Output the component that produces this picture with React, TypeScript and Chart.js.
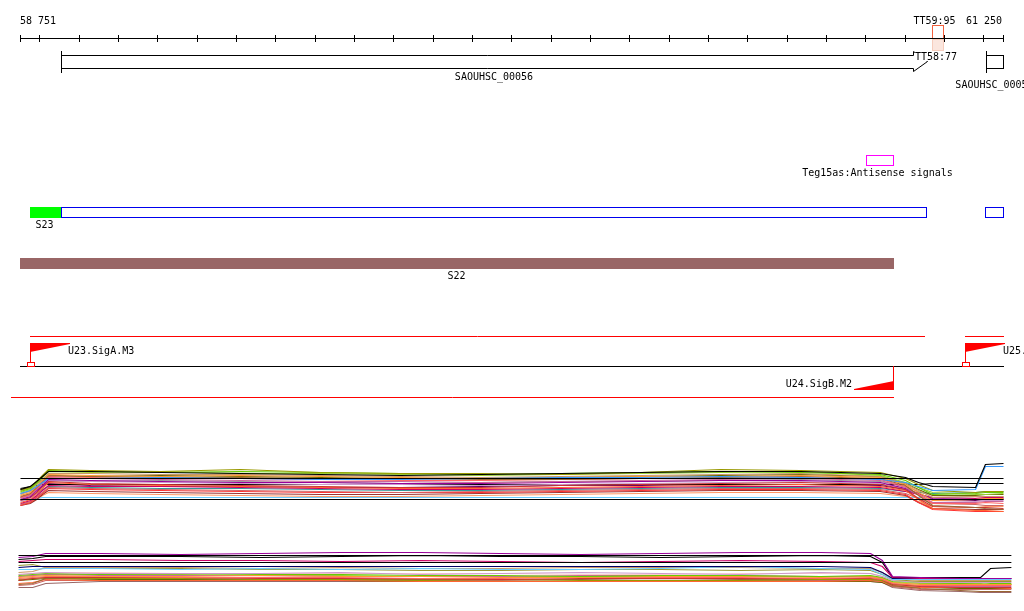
import { useEffect, useRef } from "react";
import { Chart, registerables } from "chart.js";
Chart.register(...registerables);

// ---- genomic range and ruler ----
const RANGE_START = 58751;
const RANGE_END = 61250;
const RULER_TICKS = [58751, 58800, 58900, 59000, 59100, 59200, 59300, 59400, 59500, 59600, 59700, 59800, 59900, 60000, 60100, 60200, 60300, 60400, 60500, 60600, 60700, 60800, 60900, 61000, 61100, 61200, 61250];

// ---- annotation features ----
const TERMINATORS = [{ label: "TT59:95", start: 61070, end: 61097 }];
const TERMINATOR_LABELS = [{ label: "TT58:77", pos: 61026 }];
const GENES = [
  { name: "SAOUHSC_00056", start: 58855, end: 61057, arrow: true },
  { name: "SAOUHSC_00057", start: 61206, end: 61250, arrow: false },
];
const ANTISENSE = [{ label: "Teg15as:Antisense signals", start: 60902, end: 60970 }];
const S23_SEGMENTS = [
  { start: 58776, end: 58855, kind: "fill" },
  { start: 58855, end: 61054, kind: "box" },
  { start: 61204, end: 61250, kind: "box" },
];
const S22_SEGMENTS = [{ label: "S22", start: 58751, end: 60970 }];
const UPPER_RED = [[58776, 61049], [61153, 61250]];
const LOWER_RED = [[58728, 60970]];
const PROMOTERS = [
  { label: "U23.SigA.M3", pos: 58776, strand: "+" },
  { label: "U25.", pos: 61153, strand: "+" },
  { label: "U24.SigB.M2", pos: 60970, strand: "-" },
];

// ---- signal track 1 ----
const T1_POS = [58751, 58776, 58792, 58807, 58822, 58929, 59107, 59310, 59514, 59717, 59920, 60124, 60327, 60531, 60734, 60937, 61001, 61034, 61070, 61179, 61204, 61250];
const t1Black = [71, 74, 79, 84, 89, 89, 88, 87, 86, 85, 86, 87, 88, 89, 89, 87, 83, 78, 74, 73, 96, 97];
const t1Blue = [67, 70, 74, 78, 82, 82, 83, 82, 81, 81, 82, 83, 83, 84, 83, 81, 78, 74, 70, 71, 94, 94];
const t1Olive = [70, 73, 79, 85, 91, 90, 89, 91, 88, 87, 87, 86, 88, 91, 90, 88, 82, 76, 70, 68, 69, 69];
const t1Green = [69, 72, 78, 84, 90, 89, 88, 89, 88, 87, 86, 87, 88, 89, 88, 86, 80, 73, 66, 67, 68, 68];
const t1YellowGreen = [68, 71, 77, 83, 89, 88, 89, 87, 87, 86, 85, 86, 87, 88, 89, 85, 78, 73, 68, 66, 66, 67];
const t1Tan = [66, 70, 76, 81, 87, 87, 86, 86, 85, 84, 83, 84, 85, 86, 87, 84, 77, 70, 63, 64, 64, 64];
const t1Orange = [65, 68, 74, 80, 86, 85, 84, 85, 84, 83, 82, 83, 84, 84, 85, 83, 76, 68, 60, 61, 62, 62];
const t1Brown = [64, 67, 73, 79, 85, 84, 83, 83, 82, 82, 81, 81, 82, 83, 84, 82, 75, 65, 55, 53, 52, 51];
const t1Salmon = [63, 66, 72, 78, 84, 83, 82, 82, 81, 80, 80, 81, 82, 82, 83, 81, 74, 66, 57, 57, 58, 57];
const t1Pink = [62, 65, 71, 77, 83, 82, 81, 80, 79, 79, 78, 79, 80, 81, 82, 80, 73, 66, 58, 58, 59, 59];
const t1Magenta = [61, 64, 70, 75, 81, 80, 79, 78, 78, 77, 77, 78, 79, 80, 80, 78, 72, 67, 62, 61, 62, 62];
const t1DarkOlive = [71, 73, 77, 81, 85, 84, 85, 84, 83, 82, 82, 83, 84, 85, 86, 84, 77, 71, 65, 65, 66, 66];
const t1Red = [60, 63, 68, 74, 79, 77, 76, 75, 74, 73, 73, 75, 76, 77, 78, 76, 71, 62, 54, 53, 53, 52];
const t1Lavender = [59, 62, 68, 74, 80, 79, 78, 77, 76, 76, 75, 76, 77, 78, 79, 77, 72, 66, 60, 59, 60, 60];
const t1Orange2 = [58, 61, 67, 72, 78, 76, 75, 74, 73, 72, 72, 73, 74, 75, 76, 74, 70, 61, 52, 50, 50, 49];
const t1Black2 = [72, 74, 75, 76, 76, 76, 76, 76, 76, 76, 76, 76, 76, 76, 76, 76, 76, 76, 77, 77, 77, 77];
const t1Crimson = [57, 60, 65, 70, 75, 74, 74, 73, 72, 71, 71, 72, 73, 74, 74, 73, 69, 66, 63, 62, 63, 63];
const t1Purple = [63, 66, 70, 74, 77, 75, 74, 74, 73, 73, 74, 75, 75, 76, 76, 75, 71, 66, 61, 60, 61, 61];
const t1Rosy = [56, 59, 64, 68, 73, 72, 71, 70, 69, 68, 69, 70, 71, 72, 72, 71, 67, 62, 57, 56, 55, 55];
const t1Teal = [61, 63, 67, 71, 74, 73, 72, 72, 71, 70, 70, 71, 72, 73, 73, 72, 69, 68, 67, 68, 69, 69];
const t1Red2 = [55, 58, 63, 67, 72, 71, 70, 69, 68, 68, 68, 69, 70, 71, 71, 70, 66, 58, 51, 49, 49, 49];
const t1DarkRed = [55, 57, 61, 66, 70, 69, 68, 67, 66, 66, 67, 68, 69, 70, 70, 69, 65, 58, 52, 51, 51, 51];
const t1LightPink = [65, 68, 73, 79, 84, 83, 84, 82, 81, 81, 80, 81, 82, 83, 84, 82, 76, 70, 64, 63, 63, 63];
const t1Gray = [67, 69, 73, 77, 80, 79, 80, 79, 78, 77, 78, 79, 79, 80, 81, 79, 74, 69, 65, 64, 64, 64];
const t1SkyBlue = [60, 61, 62, 63, 63, 63, 63, 63, 63, 63, 63, 63, 63, 63, 63, 63, 63, 63, 63, 63, 63, 63];
const t1Peach = [56, 58, 61, 65, 68, 67, 66, 65, 64, 64, 65, 66, 67, 68, 68, 67, 64, 59, 54, 53, 54, 54];
const T1_LEVELS = [82, 61];

// ---- signal track 2 ----
const T2_POS = [58746, 58782, 58815, 58954, 59158, 59361, 59565, 59768, 59971, 60175, 60378, 60581, 60785, 60912, 60942, 60968, 61039, 61141, 61192, 61217, 61270];
const t2Purple = [83, 84, 87, 87, 86, 87, 88, 88, 87, 86, 87, 88, 88, 87, 80, 64, 63, 62, 62, 62, 62];
const t2Crimson = [79, 80, 81, 81, 80, 80, 79, 80, 79, 78, 79, 80, 79, 78, 74, 63, 62, 62, 62, 62, 62];
const t2Black = [81, 82, 84, 84, 84, 83, 84, 85, 84, 84, 83, 84, 85, 84, 78, 63, 63, 63, 63, 72, 73];
const t2Navy = [73, 74, 74, 74, 74, 74, 74, 74, 74, 74, 74, 74, 74, 73, 68, 62, 62, 62, 62, 62, 62];
const t2SkyBlue = [71, 71, 72, 72, 71, 72, 71, 72, 71, 71, 72, 74, 72, 71, 66, 61, 61, 61, 61, 61, 61];
const t2Tan = [68, 69, 73, 73, 73, 72, 73, 72, 72, 73, 73, 73, 72, 72, 68, 62, 60, 60, 60, 60, 60];
const t2Olive = [75, 76, 73, 72, 72, 71, 71, 70, 70, 71, 71, 70, 71, 70, 66, 61, 59, 59, 59, 59, 59];
const t2Lavender = [66, 67, 68, 67, 67, 67, 68, 66, 67, 68, 67, 66, 68, 67, 64, 60, 58, 58, 58, 58, 58];
const t2Green = [65, 66, 67, 66, 67, 66, 66, 65, 65, 64, 65, 65, 64, 65, 63, 59, 58, 57, 58, 57, 57];
const t2Orange = [63, 64, 65, 64, 64, 65, 64, 64, 63, 63, 64, 64, 63, 64, 62, 58, 56, 56, 56, 56, 56];
const t2Salmon = [62, 63, 64, 64, 63, 63, 63, 62, 62, 63, 63, 63, 62, 63, 61, 57, 55, 55, 55, 55, 55];
const t2Red = [60, 62, 63, 63, 63, 62, 62, 62, 61, 62, 62, 62, 62, 62, 61, 56, 54, 53, 53, 53, 53];
const t2Olive2 = [61, 62, 63, 62, 62, 61, 61, 60, 61, 60, 60, 60, 61, 61, 60, 56, 55, 55, 56, 56, 56];
const t2Brown = [56, 57, 62, 62, 62, 61, 61, 61, 61, 61, 62, 61, 61, 61, 60, 55, 52, 50, 49, 49, 49];
const t2Pink = [64, 65, 66, 65, 65, 65, 64, 64, 64, 65, 65, 65, 64, 64, 62, 57, 54, 54, 54, 54, 54];
const t2Orange2 = [57, 58, 61, 60, 60, 60, 60, 59, 59, 59, 59, 59, 59, 60, 59, 55, 53, 53, 53, 53, 52];
const t2Rosy = [55, 56, 60, 60, 60, 60, 60, 60, 60, 59, 59, 60, 60, 60, 59, 54, 51, 51, 51, 51, 51];
const t2DarkOlive = [60, 61, 62, 61, 61, 61, 60, 59, 59, 59, 59, 59, 59, 59, 58, 54, 53, 52, 52, 52, 52];
const t2YellowGreen = [64, 65, 66, 66, 66, 65, 65, 64, 64, 64, 64, 64, 64, 64, 62, 58, 57, 57, 57, 56, 56];
const t2RosyBrown = [53, 53, 57, 59, 59, 59, 59, 59, 59, 59, 59, 59, 59, 59, 58, 53, 50, 49, 48, 48, 48];
const t2LightPink = [66, 67, 68, 68, 67, 67, 67, 67, 67, 66, 66, 67, 67, 67, 64, 60, 59, 59, 59, 59, 59];
const T2_LEVELS = [85, 78];

const TRACK1: [string, number[]][] = [
  ["#000000", t1Black], ["#3399ff", t1Blue], ["#999900", t1Olive], ["#66cc00", t1Green],
  ["#99cc33", t1YellowGreen], ["#cc9966", t1Tan], ["#ff9933", t1Orange], ["#996633", t1Brown],
  ["#ff6666", t1Salmon], ["#cc6699", t1Pink], ["#990099", t1Magenta], ["#666600", t1DarkOlive],
  ["#cc3333", t1Red], ["#cc99cc", t1Lavender], ["#ff6633", t1Orange2], ["#000000", t1Black2],
  ["#cc0066", t1Crimson], ["#660066", t1Purple], ["#cc6666", t1Rosy], ["#339999", t1Teal],
  ["#ff3333", t1Red2], ["#993333", t1DarkRed], ["#ffcccc", t1LightPink], ["#999999", t1Gray],
  ["#66ccff", t1SkyBlue], ["#ff9966", t1Peach],
];
const TRACK2: [string, number[]][] = [
  ["#990099", t2Purple], ["#cc0066", t2Crimson], ["#000000", t2Black], ["#000066", t2Navy],
  ["#66ccff", t2SkyBlue], ["#cc9966", t2Tan], ["#999933", t2Olive], ["#cc99cc", t2Lavender],
  ["#66cc00", t2Green], ["#ff9933", t2Orange], ["#ff6666", t2Salmon], ["#cc3333", t2Red],
  ["#999900", t2Olive2], ["#996633", t2Brown], ["#cc6699", t2Pink], ["#ff6633", t2Orange2],
  ["#cc6666", t2Rosy], ["#666600", t2DarkOlive], ["#99cc33", t2YellowGreen], ["#996666", t2RosyBrown],
  ["#ffcccc", t2LightPink],
];

const W = 1024;
const H = 611;
const PAD_L = 20;
const PAD_R = 21;
const FONT = "10px 'DejaVu Sans Mono', monospace";

const fmt = (n: number) => String(n).replace(/\B(?=(\d{3})+(?!\d))/g, " ");

function buildDatasets() {
  const ds: any[] = [];
  const mk = (pos: number[], vals: number[]) => pos.map((p, i) => ({ x: p, y: vals[i] }));
  T1_LEVELS.forEach((lv) =>
    ds.push({ data: [{ x: T1_POS[0], y: lv }, { x: T1_POS[T1_POS.length - 1], y: lv }], borderColor: "#000000", yAxisID: "y1" })
  );
  T2_LEVELS.forEach((lv) =>
    ds.push({ data: [{ x: T2_POS[0], y: lv }, { x: T2_POS[T2_POS.length - 1], y: lv }], borderColor: "#000000", yAxisID: "y2" })
  );
  TRACK1.forEach(([c, v]) => ds.push({ data: mk(T1_POS, v), borderColor: c, yAxisID: "y1" }));
  TRACK2.forEach(([c, v]) => ds.push({ data: mk(T2_POS, v), borderColor: c, yAxisID: "y2" }));
  return ds.map((d) => ({ ...d, xAxisID: "x", borderWidth: 1.2, pointRadius: 0, fill: false, tension: 0 }));
}

const crispPlugin = {
  id: "crisp",
  beforeDatasetsDraw(chart: any) {
    chart.ctx.save();
    chart.ctx.translate(0.5, 0.5);
  },
  afterDatasetsDraw(chart: any) {
    chart.ctx.restore();
  },
};

const annotationPlugin = {
  id: "annotations",
  afterDraw(chart: any) {
    const ctx: CanvasRenderingContext2D = chart.ctx;
    const xs = chart.scales.x;
    const px = (bp: number) => Math.round(xs.getPixelForValue(bp));
    const hline = (x0: number, x1: number, y: number, color: string) => {
      ctx.strokeStyle = color;
      ctx.beginPath();
      ctx.moveTo(x0, y + 0.5);
      ctx.lineTo(x1 + 1, y + 0.5);
      ctx.stroke();
    };
    const vline = (x: number, y0: number, y1: number, color: string) => {
      ctx.strokeStyle = color;
      ctx.beginPath();
      ctx.moveTo(x + 0.5, y0);
      ctx.lineTo(x + 0.5, y1 + 1);
      ctx.stroke();
    };
    const rect = (x0: number, y0: number, x1: number, y1: number, color: string) => {
      ctx.strokeStyle = color;
      ctx.strokeRect(x0 + 0.5, y0 + 0.5, x1 - x0, y1 - y0);
    };
    const text = (s: string, x: number, y: number, align: CanvasTextAlign = "left") => {
      ctx.fillStyle = "#000000";
      ctx.textAlign = align;
      ctx.fillText(s, x, y);
    };
    ctx.save();
    ctx.lineWidth = 1;
    ctx.font = FONT;
    ctx.textBaseline = "alphabetic";

    // ruler
    const r0 = px(RANGE_START);
    const r1 = px(RANGE_END);
    TERMINATORS.forEach((t) => {
      const a = px(t.start);
      const b = px(t.end);
      ctx.fillStyle = "#fbe6de";
      ctx.fillRect(a, 39, b - a + 1, 12);
      rect(a, 39, b, 50, "#f6cdbd");
      rect(a, 25, b, 38, "#f4603c");
      text(t.label, (a + b) / 2 - 3, 24, "center");
    });
    hline(r0, r1, 38, "#000000");
    RULER_TICKS.forEach((t) => vline(px(t), 35, 41, "#000000"));
    text(fmt(RANGE_START), r0, 24);
    text(fmt(RANGE_END), r1 - 1, 24, "right");

    // genes
    GENES.forEach((g, i) => {
      const a = px(g.start);
      const b = Math.min(px(g.end), r1);
      ctx.strokeStyle = "#000000";
      ctx.beginPath();
      if (g.arrow) {
        const hb = b - 14;
        ctx.moveTo(a, 55.5);
        ctx.lineTo(hb + 0.5, 55.5);
        ctx.lineTo(hb + 0.5, 51.5);
        ctx.lineTo(b + 0.5, 61.5);
        ctx.lineTo(hb + 0.5, 71.5);
        ctx.lineTo(hb + 0.5, 68.5);
        ctx.lineTo(a, 68.5);
        ctx.stroke();
      } else {
        ctx.strokeRect(a + 0.5, 55.5, b - a, 13);
      }
      vline(a, 51, 72, "#000000");
      text(g.name, (a + b) / 2, i === 0 ? 80 : 88, "center");
    });
    TERMINATOR_LABELS.forEach((t) => {
      const a = px(t.pos);
      const w = ctx.measureText(t.label).width;
      ctx.fillStyle = "#ffffff";
      ctx.fillRect(a, 51, w + 1, 10);
      text(t.label, a, 60);
    });

    // antisense
    ANTISENSE.forEach((f) => {
      const a = px(f.start);
      const b = px(f.end);
      rect(a, 155, b, 165, "#ff00ff");
      text(f.label, (a + b) / 2 - 2, 176, "center");
    });

    // S23
    S23_SEGMENTS.forEach((s, i) => {
      const a = px(s.start);
      const b = px(s.end);
      if (s.kind === "fill") {
        ctx.fillStyle = "#00ff00";
        ctx.fillRect(a, 207, b - a + 1, 11);
      } else {
        rect(a, 207, b, 217, "#0000ee");
      }
      if (i === 0) text("S23", (a + b) / 2 - 1, 228, "center");
    });

    // S22
    S22_SEGMENTS.forEach((s) => {
      const a = px(s.start);
      const b = px(s.end);
      ctx.fillStyle = "#996666";
      ctx.fillRect(a, 258, b - a + 1, 11);
      text(s.label, (a + b) / 2, 279, "center");
    });

    // promoter track
    UPPER_RED.forEach(([s, e]) => hline(px(s), px(e), 336, "#ff0000"));
    hline(r0, r1, 366, "#000000");
    LOWER_RED.forEach(([s, e]) => hline(px(s), px(e), 397, "#ff0000"));
    PROMOTERS.forEach((p) => {
      const x = px(p.pos);
      ctx.fillStyle = "#ff0000";
      if (p.strand === "+") {
        vline(x, 343, 362, "#ff0000");
        ctx.beginPath();
        ctx.moveTo(x, 343);
        ctx.lineTo(x + 40, 343);
        ctx.lineTo(x + 40, 344);
        ctx.lineTo(x, 352);
        ctx.closePath();
        ctx.fill();
        rect(x - 3, 362, x + 4, 366, "#ff0000");
        text(p.label, x + 38, 354);
      } else {
        vline(x, 366, 389, "#ff0000");
        ctx.beginPath();
        ctx.moveTo(x + 1, 381);
        ctx.lineTo(x + 1, 390);
        ctx.lineTo(x - 39, 390);
        ctx.lineTo(x - 39, 389);
        ctx.closePath();
        ctx.fill();
        text(p.label, x - 41, 387, "right");
      }
    });
    ctx.restore();
  },
};

export default function App() {
  const ref = useRef<HTMLCanvasElement>(null);
  useEffect(() => {
    document.body.style.margin = "0";
    const k = (RANGE_END - RANGE_START) / (W - PAD_L - PAD_R);
    const chart = new Chart(ref.current as HTMLCanvasElement, {
      type: "line",
      data: { datasets: buildDatasets() },
      options: {
        animation: false,
        responsive: false,
        maintainAspectRatio: false,
        devicePixelRatio: 1,
        layout: { padding: 0 },
        plugins: { legend: { display: false }, tooltip: { enabled: false }, title: { display: false } },
        scales: {
          x: { type: "linear", min: RANGE_START - PAD_L * k, max: RANGE_END + PAD_R * k, display: false },
          y1: { type: "linear", min: -51, max: 560, display: false },
          y2: { type: "linear", min: 29, max: 640, display: false },
        },
      },
      plugins: [crispPlugin, annotationPlugin],
    } as any);
    return () => chart.destroy();
  }, []);
  return (
    <div style={{ width: W, height: H, background: "#ffffff" }}>
      <canvas ref={ref} width={W} height={H} style={{ display: "block" }} />
    </div>
  );
}
